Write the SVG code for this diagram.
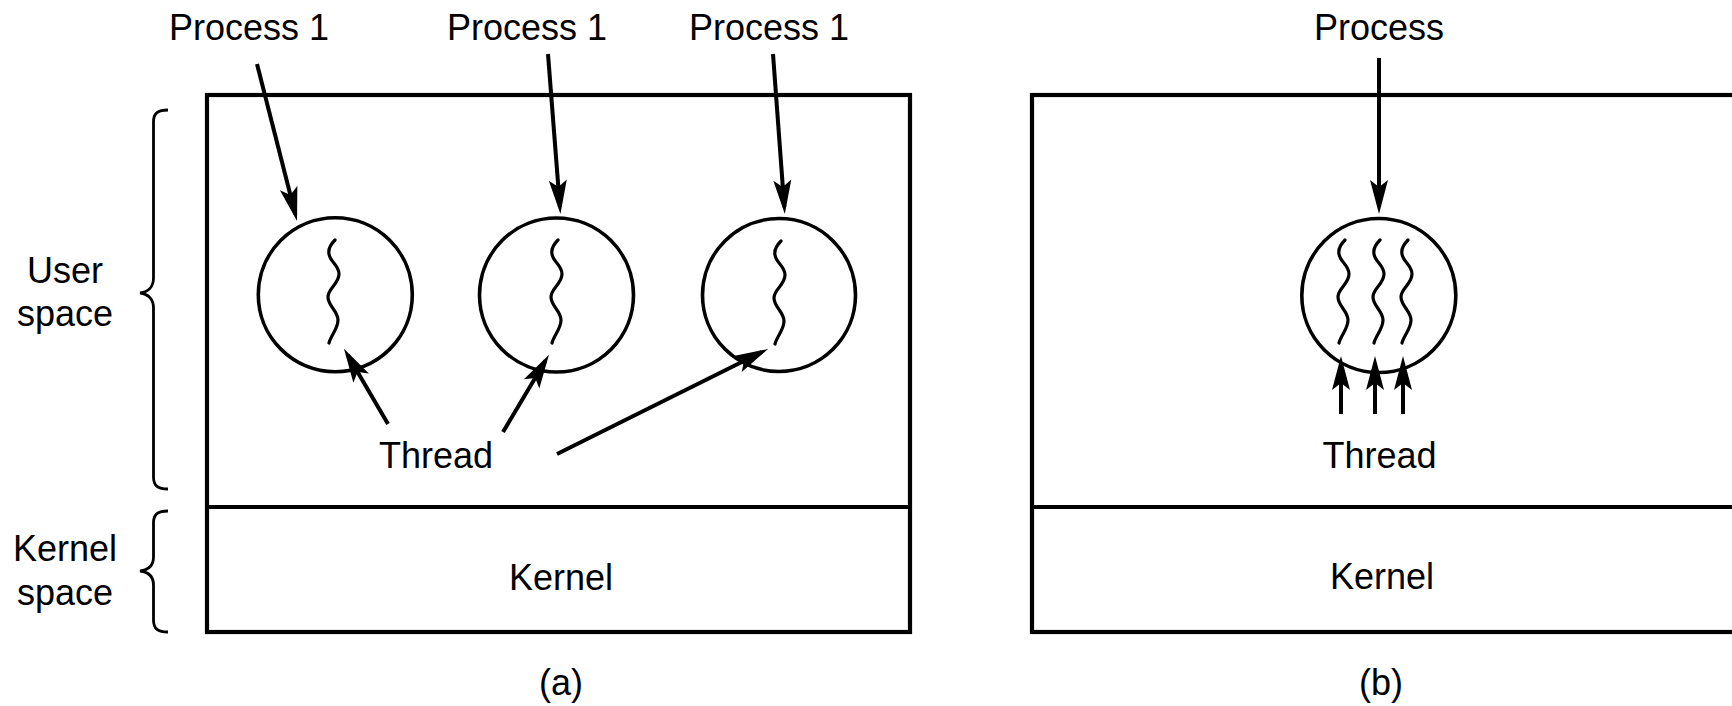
<svg xmlns="http://www.w3.org/2000/svg" width="1732" height="706" viewBox="0 0 1732 706">
<style>
text{font-family:"Liberation Sans",Arial,Helvetica,sans-serif;font-size:36px;fill:#000;text-anchor:middle}
.box{fill:none;stroke:#000;stroke-width:4.2}
.proc{fill:none;stroke:#000;stroke-width:3.6}
.thr{fill:none;stroke:#000;stroke-width:3.2;stroke-linecap:round}
.arr{fill:none;stroke:#000;stroke-width:4;marker-end:url(#ah)}
.brace{fill:none;stroke:#000;stroke-width:2.8}
</style>
<defs>
<marker id="ah" markerUnits="userSpaceOnUse" markerWidth="36" markerHeight="20" viewBox="0 0 36 20" refX="27" refY="10" orient="auto">
<path d="M0,1 L34,10 L0,19 L7,10 Z" fill="#000"/>
</marker>
<path id="thread" d="M0,0 C-5,5 -7,9 -6,14 C-5,22 4,25 4,34 C4,44 -7,48 -7,57 C-7,66 3,71 3,80 C3,89 -4,95 -6,103"/>
</defs>

<g id="labels-left">
<text x="65" y="283">User</text>
<text x="65" y="326">space</text>
<text x="65" y="561">Kernel</text>
<text x="65" y="605">space</text>
<path class="brace" d="M168,110 C158,110 153.5,113 153.5,122 L153.5,278 C153.5,287 148,292 140,293 C148,294 153.5,299 153.5,308 L153.5,477 C153.5,486 158,489 168,489"/>
<path class="brace" d="M168,511 C158,511 153.5,514 153.5,523 L153.5,557 C153.5,566 148,570 140,571 C148,572 153.5,576 153.5,585 L153.5,620 C153.5,629 158,632 168,632"/>
</g>

<g id="panel-a">
<rect class="box" x="207" y="95" width="703" height="537"/>
<line class="box" x1="207" y1="507" x2="910" y2="507"/>
<text x="561" y="590">Kernel</text>
<text x="561" y="695">(a)</text>
<text x="249" y="40">Process 1</text>
<text x="527" y="40">Process 1</text>
<text x="769" y="40">Process 1</text>
<text x="436" y="468">Thread</text>
</g>

<g id="process-a1">
<circle class="proc" cx="335.3" cy="294.7" r="77"/>
<use href="#thread" class="thr" x="335" y="240"/>
</g>
<g id="process-a2">
<circle class="proc" cx="556.5" cy="295" r="77"/>
<use href="#thread" class="thr" x="558" y="240"/>
</g>
<g id="process-a3">
<circle class="proc" cx="779" cy="295" r="76.5"/>
<use href="#thread" class="thr" x="781" y="241"/>
</g>

<g id="panel-b">
<rect class="box" x="1032" y="95" width="720" height="537"/>
<line class="box" x1="1032" y1="507" x2="1752" y2="507"/>
<text x="1382" y="589">Kernel</text>
<text x="1381" y="695">(b)</text>
<text x="1379" y="40">Process</text>
<text x="1379.5" y="468">Thread</text>
</g>

<g id="process-b">
<circle class="proc" cx="1378.8" cy="295.5" r="77"/>
<use href="#thread" class="thr" x="1345" y="240"/>
<use href="#thread" class="thr" x="1380" y="240"/>
<use href="#thread" class="thr" x="1408" y="240"/>
</g>

<g id="connectors">
<line class="arr" x1="257" y1="64" x2="295.3" y2="214.3"/>
<line class="arr" x1="548" y1="54" x2="559.9" y2="207"/>
<line class="arr" x1="773" y1="54" x2="784.3" y2="207"/>
<line class="arr" x1="1379" y1="58" x2="1379" y2="207"/>
<line class="arr" x1="388" y1="424" x2="347.5" y2="354.8"/>
<line class="arr" x1="503" y1="432" x2="545.4" y2="360.7"/>
<line class="arr" x1="557" y1="454" x2="761.9" y2="352"/>
<line class="arr" x1="1341" y1="414" x2="1341" y2="363"/>
<line class="arr" x1="1375" y1="414" x2="1375" y2="363"/>
<line class="arr" x1="1403" y1="414" x2="1403" y2="363"/>
</g>
</svg>
